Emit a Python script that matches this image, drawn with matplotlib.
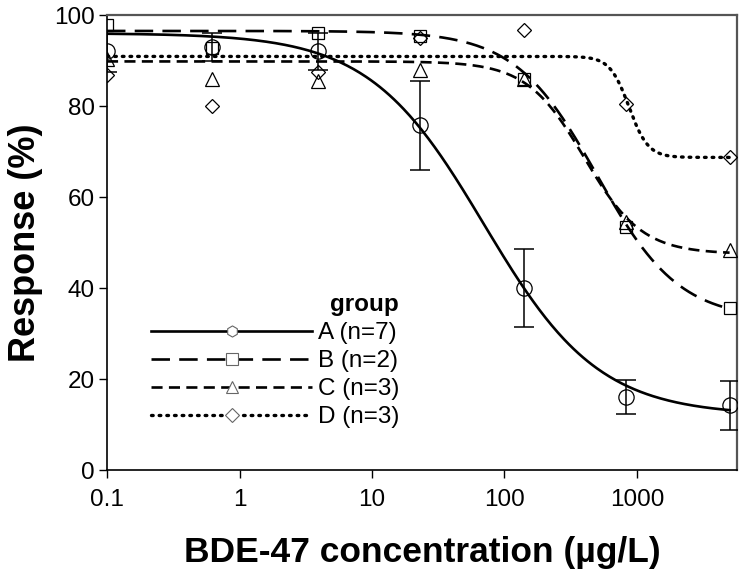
import matplotlib.pyplot as plt
import matplotlib.ticker as mticker
import numpy as np

plt.rcParams['font.family'] = ['Liberation Sans', 'DejaVu Sans']

# concentrations (ug/L), control plotted at 0.1
conc = [0.1, 0.62, 3.9, 23, 140, 830, 5000]

resp_a = [92.0, 93.0, 92.0, 75.8, 40.0, 16.0, 14.2]
err_a = [4.5, 3.0, 4.0, 9.8, 8.6, 3.8, 5.3]
resp_b = [97.7, 92.8, 96.0, 95.3, 86.0, 53.3, 35.6]
resp_c = [90.3, 86.0, 85.5, 88.0, 86.0, 54.5, 48.4]
resp_d = [86.8, 80.0, 87.5, 95.0, 96.7, 80.5, 68.8]

# fitted log-logistic parameters: top, bottom, EC50, slope
fit_a = (96.0, 12.0, 70.0, 1.0)
fit_b = (96.5, 33.0, 500.0, 1.4)
fit_c = (89.8, 47.5, 400.0, 2.0)
fit_d = (90.9, 68.7, 870.0, 6.0)

labels = ['A (n=7)', 'B (n=2)', 'C (n=3)', 'D (n=3)']


def curve(x, p):
    top, bottom, ec50, h = p
    return bottom + (top - bottom) / (1 + (x / ec50) ** h)


xs = np.logspace(-1, np.log10(5000), 400)

fig = plt.figure(figsize=(7.4, 5.75), dpi=100)
ax = fig.add_axes([0.1446, 0.1826, 0.8514, 0.7913])

lw = 1.9
dash_b = (7, 3.5)
dash_c = (4.2, 2.4)
dot_d = (0.5, 1.8)
mk = dict(mfc='none', mec='black', mew=0.9, ls='none')

ax.errorbar(conc, resp_a, yerr=err_a, fmt='none', ecolor='black', elinewidth=1.1,
            capsize=7, capthick=1.1, zorder=3)
ax.plot(conc, resp_a, marker='o', ms=11, **mk, zorder=4)
ax.plot(conc, resp_b, marker='s', ms=9, **mk, zorder=4)
ax.plot(conc, resp_c, marker='^', ms=10, **mk, zorder=4)
ax.plot(conc, resp_d, marker='D', ms=7, **mk, zorder=4)

ax.plot(xs, curve(xs, fit_a), color='black', lw=lw)
ax.plot(xs, curve(xs, fit_b), color='black', lw=lw, dashes=dash_b)
ax.plot(xs, curve(xs, fit_c), color='black', lw=lw, dashes=dash_c)
ax.plot(xs, curve(xs, fit_d), color='black', lw=2.4, dashes=dot_d,
        dash_capstyle='round')

# legend proxies
hs = []
hs.append(ax.plot([], [], color='black', lw=lw, marker='h', ms=8, mfc='white',
                  mec='#666666', mew=0.8)[0])
hs.append(ax.plot([], [], color='black', lw=lw, dashes=dash_b, marker='s', ms=8,
                  mfc='white', mec='#666666', mew=0.8)[0])
hs.append(ax.plot([], [], color='black', lw=lw, dashes=dash_c, marker='^', ms=8,
                  mfc='white', mec='#666666', mew=0.8)[0])
hs.append(ax.plot([], [], color='black', lw=2.4, dashes=dot_d,
                  dash_capstyle='round', marker='D', ms=7, mfc='white',
                  mec='#666666', mew=0.8)[0])
leg = ax.legend(hs, labels, title='group', loc='lower left',
                bbox_to_anchor=(0.055, 0.07), frameon=False, fontsize=17.5,
                title_fontproperties={'weight': 'bold', 'size': 17.5},
                handlelength=6.6, handletextpad=0.25, labelspacing=0.25,
                borderaxespad=0, alignment='right', markerfirst=True)

ax.set_xscale('log')
ax.set_xlim(0.1, 5690)
ax.set_ylim(0, 100)
ax.set_xticks([0.1, 1, 10, 100, 1000])
ax.xaxis.set_major_formatter(mticker.FixedFormatter(['0.1', '1', '10', '100', '1000']))
ax.xaxis.set_minor_locator(mticker.NullLocator())
ax.set_yticks([0, 20, 40, 60, 80, 100])

ax.tick_params(axis='both', labelsize=17.5, length=6, width=1, direction='out')
ax.tick_params(axis='x', pad=8)
ax.tick_params(axis='y', pad=3)
for s in ['top', 'right']:
    ax.spines[s].set_color('#555555')
    ax.spines[s].set_linewidth(1.6)
for s in ['left', 'bottom']:
    ax.spines[s].set_linewidth(1.2)

ax.set_xlabel('BDE-47 concentration (\u00b5g/L)', fontsize=25.5, fontweight='bold',
              labelpad=18)
ax.set_ylabel('Response (%)', fontsize=26, fontweight='bold', labelpad=8)

fig.savefig('out.png', dpi=100)
